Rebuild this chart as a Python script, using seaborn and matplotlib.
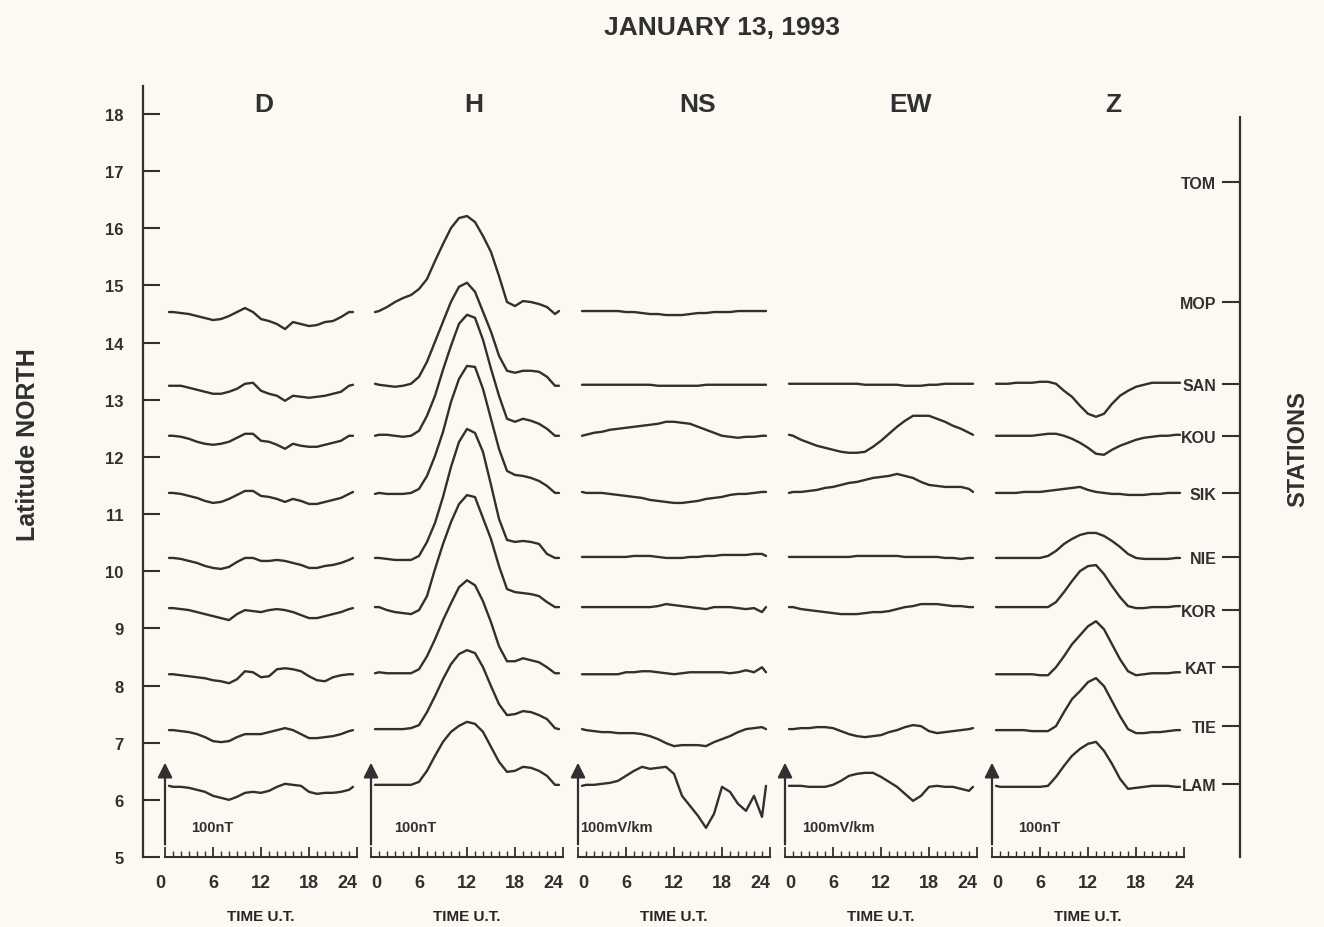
import numpy as np
import matplotlib
matplotlib.use("Agg")
import matplotlib.pyplot as plt
import seaborn as sns

# time samples (hours U.T.) shared by all traces
TIME = [0.5] + list(range(1, 24)) + [23.5]

STATIONS = ["TOM", "MOP", "SAN", "KOU", "SIK", "NIE", "KOR", "KAT", "TIE", "LAM"]
STATION_LAT = [16.81, 14.71, 13.28, 12.37, 11.37, 10.25, 9.32, 8.32, 7.29, 6.28]
LAT_TICKS = list(range(5, 19))

COMPONENTS = ["D", "H", "NS", "EW", "Z"]
SCALE_LABELS = ["100nT", "100nT", "100mV/km", "100mV/km", "100nT"]

# trace deviations (same unit as the scale arrow)
D_VALUES = {
    "MOP": [-10, -10, -11, -12, -14, -16, -18, -17, -14, -10, -6, -10, -17, -19, -22, -27, -20, -22, -24, -23, -20, -19, -15, -10, -10],
    "SAN": [-2, -2, -2, -4, -6, -8, -10, -10, -8, -5, 0, 1, -7, -10, -12, -17, -12, -13, -14, -13, -12, -10, -8, -2, -1],
    "KOU": [0, 0, -1, -3, -6, -8, -9, -8, -6, -2, 2, 2, -5, -6, -9, -13, -8, -10, -11, -11, -9, -7, -5, 0, 0],
    "SIK": [0, 0, -1, -3, -5, -8, -10, -9, -6, -2, 2, 2, -3, -4, -6, -9, -6, -8, -11, -11, -9, -7, -5, -1, 1],
    "NIE": [-1, -1, -2, -4, -6, -9, -11, -12, -10, -5, -1, -1, -4, -4, -3, -4, -6, -8, -11, -11, -9, -8, -6, -3, -1],
    "KOR": [2, 2, 1, 0, -2, -4, -6, -8, -10, -4, 0, -1, -2, 0, 1, 0, -2, -5, -8, -8, -6, -4, -2, 1, 2],
    "KAT": [-7, -7, -8, -9, -10, -11, -13, -14, -16, -12, -4, -5, -10, -9, -2, -1, -2, -4, -9, -13, -14, -10, -8, -7, -7],
    "TIE": [-4, -4, -5, -6, -8, -11, -15, -16, -15, -11, -8, -8, -8, -6, -4, -2, -4, -8, -12, -12, -11, -10, -8, -5, -4],
    "LAM": [-2, -3, -3, -4, -6, -8, -12, -14, -16, -13, -9, -8, -9, -7, -3, 0, -1, -2, -8, -10, -9, -9, -8, -6, -3],
}
H_VALUES = {
    "MOP": [-10, -9, -5, 0, 4, 7, 13, 23, 41, 58, 74, 84, 86, 80, 66, 50, 26, 0, -4, 1, 0, -2, -5, -12, -9],
    "SAN": [0, -1, -2, -3, -2, 0, 7, 22, 42, 62, 82, 97, 101, 92, 72, 52, 28, 13, 11, 13, 13, 12, 7, -2, -2],
    "KOU": [0, 1, 1, 0, -1, 0, 5, 20, 40, 66, 90, 112, 121, 118, 96, 67, 40, 17, 14, 17, 15, 12, 7, 0, 0],
    "SIK": [-1, 0, -1, -1, -1, 0, 4, 17, 37, 61, 91, 114, 127, 126, 104, 74, 44, 22, 18, 17, 15, 12, 7, 0, 0],
    "NIE": [-1, -1, -2, -3, -3, -3, 1, 15, 34, 60, 90, 115, 128, 124, 105, 72, 38, 17, 15, 16, 15, 13, 3, -1, -1],
    "KOR": [3, 3, 0, -2, -3, -4, 0, 14, 41, 66, 88, 106, 115, 113, 92, 71, 44, 21, 18, 17, 16, 14, 8, 3, 3],
    "KAT": [-6, -5, -6, -6, -6, -6, -2, 11, 28, 47, 64, 80, 87, 82, 66, 45, 21, 6, 6, 9, 7, 5, 0, -6, -6],
    "TIE": [-3, -3, -3, -3, -3, -2, 1, 14, 30, 47, 62, 72, 76, 73, 59, 40, 22, 11, 12, 15, 14, 11, 7, -2, -3],
    "LAM": [-1, -1, -1, -1, -1, -1, 2, 13, 28, 42, 52, 58, 62, 60, 52, 37, 22, 12, 13, 17, 16, 13, 8, -1, -1],
}
NS_VALUES = {
    "MOP": [-9, -9, -9, -9, -9, -9, -10, -10, -11, -12, -12, -13, -13, -13, -12, -11, -11, -10, -10, -10, -9, -9, -9, -9, -9],
    "SAN": [-1, -1, -1, -1, -1, -1, -1, -1, -1, -1, -2, -2, -2, -2, -2, -2, -1, -1, -1, -1, -1, -1, -1, -1, -1],
    "KOU": [0, 1, 3, 4, 6, 7, 8, 9, 10, 11, 12, 14, 14, 13, 12, 9, 6, 3, 0, -1, -2, -1, -1, 0, 0],
    "SIK": [1, 0, 0, 0, -1, -2, -3, -4, -5, -7, -8, -9, -10, -10, -9, -8, -6, -5, -4, -2, -1, -1, 0, 1, 1],
    "NIE": [0, 0, 0, 0, 0, 0, 0, 1, 1, 1, 0, -1, -1, -1, 0, 0, 1, 1, 2, 2, 2, 2, 3, 3, 1],
    "KOR": [3, 3, 3, 3, 3, 3, 3, 3, 3, 3, 4, 6, 5, 4, 3, 2, 1, 3, 3, 3, 2, 1, 2, -2, 3],
    "KAT": [-7, -7, -7, -7, -7, -7, -5, -5, -4, -4, -5, -6, -7, -6, -5, -5, -5, -5, -5, -6, -5, -3, -5, 0, -5],
    "TIE": [-3, -4, -5, -6, -6, -7, -7, -7, -8, -10, -13, -17, -20, -19, -19, -19, -20, -16, -13, -10, -6, -3, -2, -1, -3],
    "LAM": [-2, -1, -1, 0, 1, 3, 8, 13, 17, 15, 16, 17, 10, -12, -22, -32, -44, -30, -3, -8, -20, -27, -12, -33, -2],
}
EW_VALUES = {
    "SAN": [0, 0, 0, 0, 0, 0, 0, 0, 0, 0, -1, -1, -1, -1, -1, -2, -2, -2, -1, -1, 0, 0, 0, 0, 0],
    "KOU": [1, 0, -4, -7, -10, -12, -14, -16, -17, -17, -16, -11, -5, 2, 9, 15, 20, 20, 20, 17, 14, 10, 7, 3, 1],
    "SIK": [0, 1, 1, 2, 3, 5, 6, 8, 10, 11, 13, 15, 16, 17, 19, 17, 15, 11, 8, 7, 6, 6, 6, 4, 1],
    "NIE": [0, 0, 0, 0, 0, 0, 0, 0, 0, 1, 1, 1, 1, 1, 1, 0, 0, 0, 0, 0, -1, -1, -2, -1, -1],
    "KOR": [3, 3, 1, 0, -1, -2, -3, -4, -4, -4, -3, -2, -2, -1, 1, 3, 4, 6, 6, 6, 5, 4, 4, 3, 3],
    "TIE": [-3, -3, -2, -2, -1, -1, -2, -5, -8, -10, -11, -10, -9, -6, -4, -1, 1, 0, -5, -7, -6, -5, -4, -3, -2],
    "LAM": [-2, -2, -2, -3, -3, -3, -1, 3, 8, 10, 11, 11, 7, 2, -3, -10, -17, -12, -3, -2, -3, -3, -5, -7, -3],
}
Z_VALUES = {
    "SAN": [0, 0, 0, 1, 1, 1, 2, 2, 0, -7, -13, -22, -30, -33, -30, -20, -12, -7, -3, -1, 1, 1, 1, 1, 1],
    "KOU": [0, 0, 0, 0, 0, 0, 1, 2, 2, 0, -3, -7, -12, -18, -19, -14, -10, -7, -4, -2, -1, 0, 0, 1, 1],
    "SIK": [0, 0, 0, 0, 1, 1, 1, 2, 3, 4, 5, 6, 3, 1, 0, -1, -1, -2, -2, -2, -1, -1, 0, 0, 0],
    "NIE": [-1, -1, -1, -1, -1, -1, -1, 1, 6, 13, 18, 22, 24, 24, 21, 16, 10, 3, -1, -2, -2, -2, -2, -1, -1],
    "KOR": [3, 3, 3, 3, 3, 3, 3, 3, 8, 18, 29, 39, 44, 45, 36, 24, 13, 4, 2, 2, 3, 3, 3, 4, 4],
    "KAT": [-7, -7, -7, -7, -7, -7, -8, -8, 0, 11, 23, 32, 41, 46, 38, 23, 8, -4, -8, -7, -6, -6, -6, -5, -5],
    "TIE": [-4, -4, -4, -4, -4, -5, -5, -5, 0, 14, 27, 35, 44, 48, 40, 25, 10, -3, -7, -7, -6, -6, -5, -4, -4],
    "LAM": [-2, -3, -3, -3, -3, -3, -3, -2, 7, 18, 28, 35, 40, 42, 33, 20, 5, -5, -4, -3, -2, -2, -2, -3, -3],
}
PANEL_DATA = [D_VALUES, H_VALUES, NS_VALUES, EW_VALUES, Z_VALUES]

# layout (pixels of the 1324x928 page)
W, H = 1324, 928
PANEL_LEFT = [165, 371, 578, 785, 992]
PANEL_WIDTH = 192
Y_BOTTOM, Y_TOP = 858, 87
LAT_MIN, LAT_MAX = 5.0, 18.49
UNIT = 1 / 57.15          # latitude degrees per unit of deviation
HEAD_X = [12.4, 12.9, 14.9, 15.7, 15.2]
SCALE_TXT_X = [3.3, 2.9, 0.3, 2.1, 3.3]
ZERO_HA = ["right", "left", "left", "left", "left"]
END_HA = ["right", "right", "right", "right", "center"]

BG = "#fbf9f1"
INK = "#303030"

sns.set_theme(style="white")
plt.rcParams["font.family"] = ["Liberation Sans", "DejaVu Sans"]
plt.rcParams["font.weight"] = "bold"
plt.rcParams["text.color"] = INK
plt.rcParams["xtick.color"] = INK
plt.rcParams["ytick.color"] = INK

fig = plt.figure(figsize=(W / 100, H / 100), dpi=100, facecolor=BG)
bottom = 1 - Y_BOTTOM / H
height = (Y_BOTTOM - Y_TOP) / H

# latitude frame (left) and station frame (right)
ax_lat = fig.add_axes([143 / W, bottom, (1240 - 143) / W, height], facecolor="none")
ax_lat.set_ylim(LAT_MIN, LAT_MAX)
ax_lat.set_xlim(0, 1)
ax_lat.set_xticks([])
for side in ["top", "bottom", "right"]:
    ax_lat.spines[side].set_visible(False)
ax_lat.spines["left"].set_color(INK)
ax_lat.spines["left"].set_linewidth(1.6)
ax_lat.set_yticks(LAT_TICKS)
ax_lat.set_yticklabels([str(v) for v in LAT_TICKS])
ax_lat.tick_params(axis="y", left=True, direction="in", length=12, width=1.5,
                   pad=14, labelsize=12)

ax_st = ax_lat.twinx()
ax_st.set_ylim(LAT_MIN, LAT_MAX)
for side in ["top", "bottom", "left"]:
    ax_st.spines[side].set_visible(False)
ax_st.spines["right"].set_color(INK)
ax_st.spines["right"].set_linewidth(1.6)
ax_st.spines["right"].set_bounds(LAT_MIN, 17.95)
ax_st.set_yticks(STATION_LAT)
ax_st.set_yticklabels(STATIONS)
ax_st.tick_params(axis="y", right=True, direction="in", length=13, width=1.5,
                  pad=-17, labelsize=11.5)
for lab in ax_st.get_yticklabels():
    lab.set_horizontalalignment("right")
ax_st.grid(False)

lat_of = dict(zip(STATIONS, STATION_LAT))

for i, comp in enumerate(COMPONENTS):
    ax = fig.add_axes([PANEL_LEFT[i] / W, bottom, PANEL_WIDTH / W, height], facecolor="none")
    ax.set_xlim(0, 24)
    ax.set_ylim(LAT_MIN, LAT_MAX)
    for station, vals in PANEL_DATA[i].items():
        y = lat_of[station] + np.array(vals) * UNIT
        sns.lineplot(x=TIME, y=y, ax=ax, color=INK, linewidth=1.7,
                     estimator=None, sort=False, legend=False)
    sns.despine(ax=ax, left=True)
    ax.spines["bottom"].set_color(INK)
    ax.spines["bottom"].set_linewidth(1.5)
    ax.set_yticks([])
    ax.set_xticks([0, 6, 12, 18, 24])
    ax.set_xticks(range(25), minor=True)
    ax.tick_params(axis="x", which="major", bottom=True, direction="in", length=7,
                   width=1.3, pad=12, labelsize=13)
    ax.tick_params(axis="x", which="minor", bottom=True, direction="in", length=4,
                   width=1.0)
    ticklabels = ax.get_xticklabels()
    ticklabels[0].set_horizontalalignment(ZERO_HA[i])
    ticklabels[-1].set_horizontalalignment(END_HA[i])
    ax.set_xlabel("TIME U.T.", fontsize=11, fontweight="bold", labelpad=13)
    ax.set_ylabel("")
    ax.text(HEAD_X[i], 18.18, comp, ha="center", va="center", fontsize=19,
            fontweight="bold")
    # scale arrow
    ax.annotate("", xy=(0, 6.65), xytext=(0, 5.22),
                arrowprops=dict(arrowstyle="-|>", color=INK, lw=1.6,
                                mutation_scale=22, shrinkA=0, shrinkB=0),
                annotation_clip=False)
    ax.text(SCALE_TXT_X[i], 5.52, SCALE_LABELS[i], ha="left", va="center",
            fontsize=10.5, fontweight="bold")

fig.text(722 / W, 1 - 28 / H, "JANUARY 13, 1993", ha="center", va="center",
         fontsize=19, fontweight="bold")
fig.text(28 / W, 1 - 445 / H, "Latitude NORTH", ha="center", va="center",
         rotation=90, fontsize=18, fontweight="bold")
fig.text(1298 / W, 1 - 449 / H, "STATIONS", ha="center", va="center",
         rotation=90, fontsize=17, fontweight="bold")

fig.savefig("out.png", dpi=100, facecolor=BG)
